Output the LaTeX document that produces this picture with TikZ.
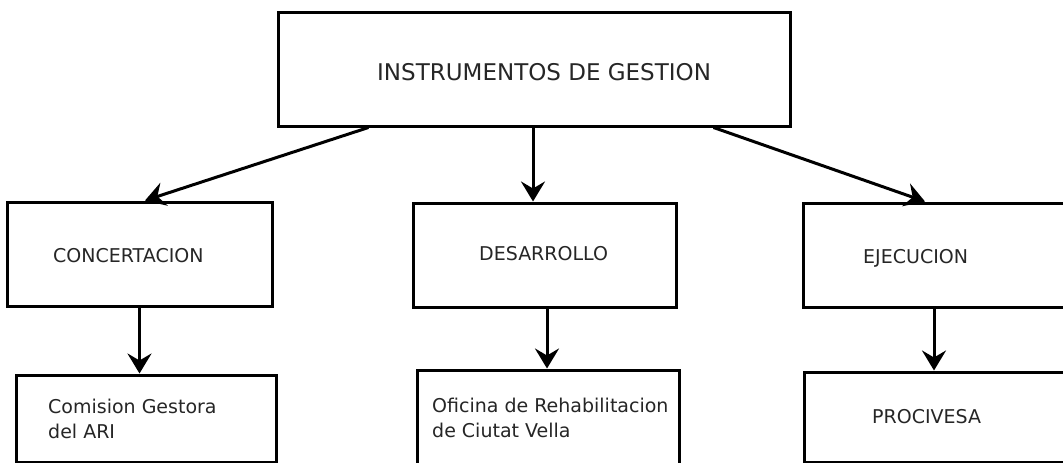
\documentclass[tikz,border=0pt]{standalone}
\usepackage{fontspec}
\setmainfont{DejaVu Sans}
\usetikzlibrary{arrows.meta,calc}
\begin{document}
\begin{tikzpicture}[x=1pt,y=-1pt,
  box/.style={draw=black, line width=3pt, rectangle, inner sep=0pt, fill=white},
  lbl/.style={anchor=base west, inner sep=0pt, text=black!85, font=\fontsize{19}{25}\selectfont},
  arr/.style={line width=3pt, -{Stealth[length=20pt,width=24pt,inset=7pt]}}]
\useasboundingbox (0,0) rectangle (1063,463);
\fill[white] (0,0) rectangle (1063,463);
\begin{scope}
\clip (0,0) rectangle (1063,463);
% boxes
\node[box, minimum width=512pt, minimum height=114pt] (top) at (534,69) {};
\node[box, minimum width=265pt, minimum height=104pt] (conc) at (139.5,254) {};
\node[box, minimum width=263pt, minimum height=104pt] (desa) at (544.5,255) {};
\node[box, minimum width=262pt, minimum height=104pt] (ejec) at (934,255) {};
\node[box, minimum width=260pt, minimum height=87pt] (com) at (146,418.5) {};
\node[box, minimum width=262pt, minimum height=104pt] (ofi) at (548,422) {};
\node[box, minimum width=261pt, minimum height=90pt] (proc) at (934.5,417) {};
% labels
\node[lbl, font=\fontsize{23}{28}\selectfont] (ttop) at (377,80) {INSTRUMENTOS DE GESTION};
\node[lbl] (tconc) at (53,262) {CONCERTACION};
\node[lbl] (tdesa) at (479,260) {DESARROLLO};
\node[lbl] (tejec) at (863,263) {EJECUCION};
\node[lbl] (tproc) at (872,423) {PROCIVESA};
\node[lbl] (tcom1) at (48,413) {Comision Gestora};
\node[lbl] (tcom2) at (48,438) {del ARI};
\node[lbl] (tofi1) at (432,412) {Oficina de Rehabilitacion};
\node[lbl] (tofi2) at (432,437) {de Ciutat Vella};
% connector end points
\coordinate (s1) at ([xshift=92pt]top.south west);
\coordinate (s2) at ([xshift=-1pt]top.south);
\coordinate (s3) at ([xshift=-78pt]top.south east);
\coordinate (e1) at ([xshift=5.5pt]conc.north);
\coordinate (e3) at ([xshift=-9pt]ejec.north);
\draw[arr] (s1) -- (e1);
\draw[arr] (s2) -- (s2 |- desa.north);
\draw[arr] (s3) -- (e3);
\draw[arr] (conc.south) -- (conc.south |- com.north);
\draw[arr] ([xshift=2.5pt]desa.south) -- ([xshift=2.5pt]desa.south |- ofi.north);
\draw[arr] (ejec.south) -- (ejec.south |- proc.north);
\end{scope}
\end{tikzpicture}
\end{document}
